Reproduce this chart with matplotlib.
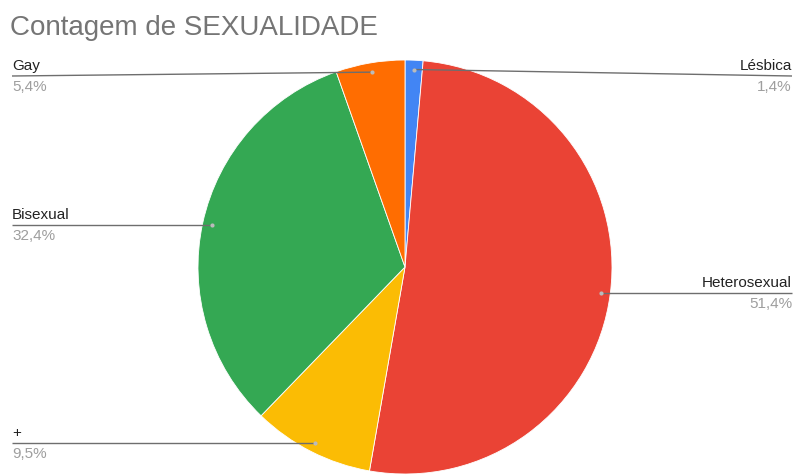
import numpy as np
import matplotlib.pyplot as plt

plt.rcParams["font.family"] = ["Liberation Sans", "DejaVu Sans"]

# share of each answer, clockwise from 12 o'clock
labels = ["Lésbica", "Heterosexual", "+", "Bisexual", "Gay"]
shares = [1.4, 51.4, 9.5, 32.4, 5.4]
colors = ["#4285F4", "#EA4335", "#FBBC04", "#34A853", "#FF6D01"]

W, H = 800, 475
CX, CY, R = 405, 208, 207     # pie centre / radius in pixel units (y up)
TOP_LINE = H - 76             # leader lines never go above this

fig = plt.figure(figsize=(8, 4.75), dpi=100)
ax = fig.add_axes([0, 0, 1, 1])

wedges, _ = ax.pie(shares, colors=colors, startangle=90, counterclock=False,
                   center=(CX, CY), radius=R,
                   wedgeprops=dict(edgecolor="white", linewidth=0.6))
ax.set_xlim(0, W)
ax.set_ylim(0, H)
ax.set_aspect("equal")
ax.axis("off")

for w, name, pct in zip(wedges, labels, shares):
    mid = np.deg2rad((w.theta1 + w.theta2) / 2)
    dx = CX + 0.955 * R * np.cos(mid)
    dy = CY + 0.955 * R * np.sin(mid)
    ly = min(dy, TOP_LINE)
    if dx >= CX:
        xe, ha = 792, "right"
    else:
        xe, ha = 12, "left"
    ax.plot([dx, xe], [dy, ly], color="#6e6e6e", lw=1.0, solid_capstyle="butt")
    ax.plot(dx, dy, "o", ms=3, color="#bbbbbb", mec="none")
    ax.text(xe, ly + 6, name, ha=ha, va="baseline", fontsize=11, color="#222222")
    ax.text(xe, ly - 4, f"{pct:.1f}%".replace(".", ","), ha=ha, va="top",
            fontsize=11, color="#9e9e9e")

fig.text(10 / W, 1 - 35 / H, "Contagem de SEXUALIDADE", fontsize=20,
         color="#757575", ha="left", va="baseline")

fig.savefig("out.png", dpi=100, facecolor="white")
